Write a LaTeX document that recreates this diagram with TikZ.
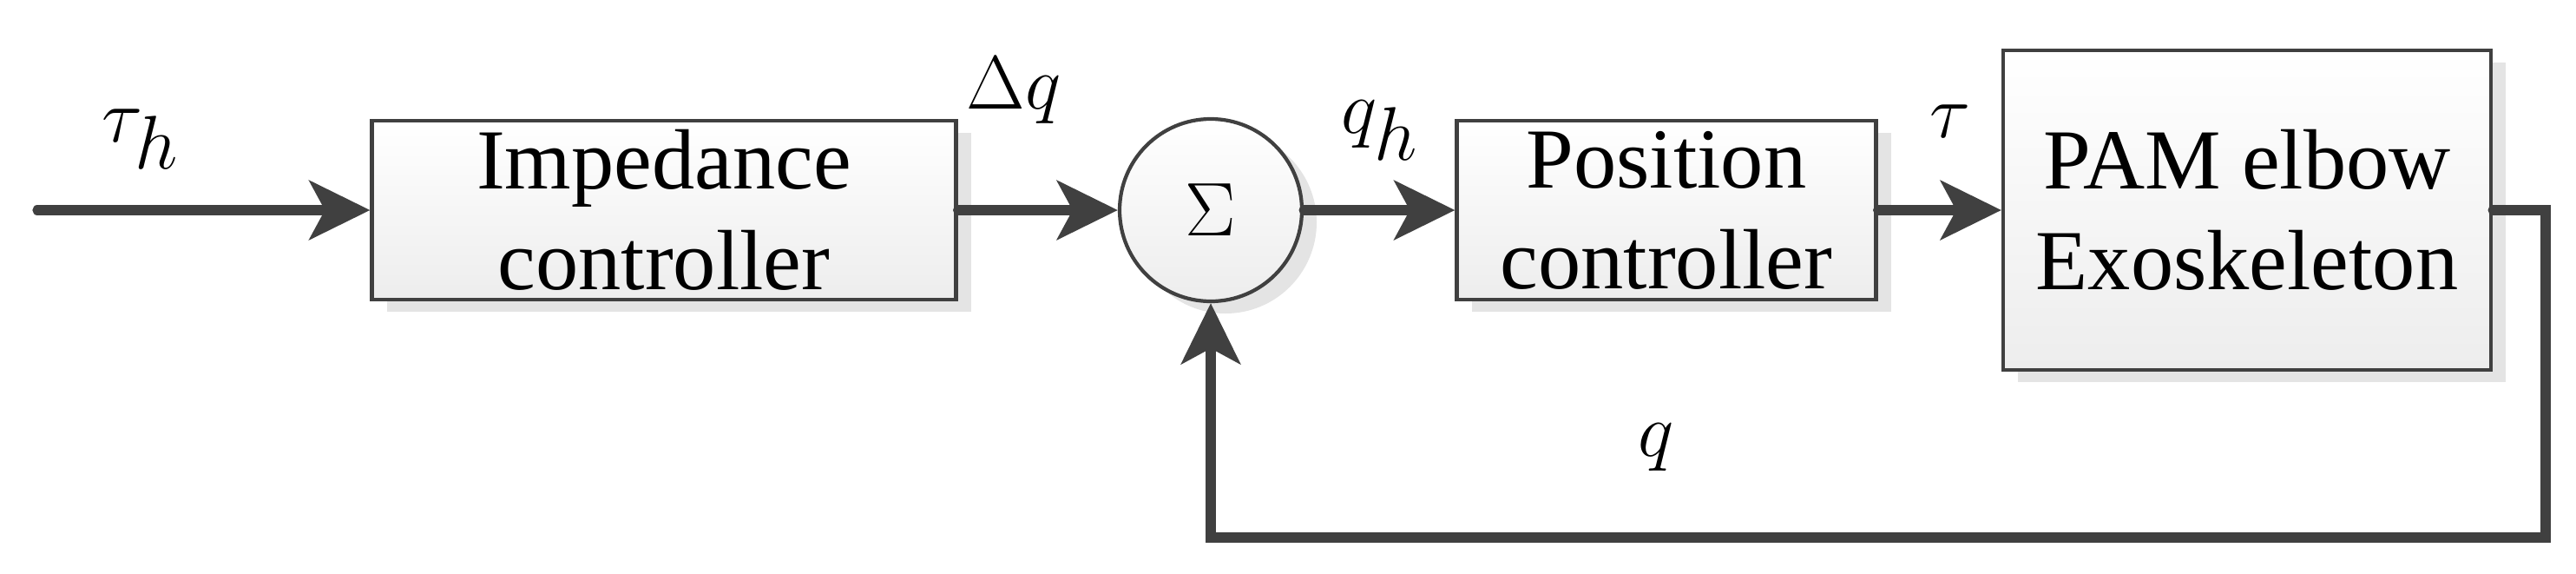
\documentclass[tikz,border=0pt]{standalone}
\usepackage{fontspec}
\setmainfont{Liberation Serif}
\usetikzlibrary{arrows.meta,shadows}

\tikzset{
    block/.style={draw=C0, line width=1.2pt, top color=white, bottom color=C1,
        drop shadow={shadow xshift=0.17cm, shadow yshift=-0.14cm, fill=C2, opacity=1},
        align=center, font=\fontsize{28}{33}\selectfont, inner sep=0pt},
    signal/.style={draw=C0, line width=3.2pt, line cap=round,
        -{Stealth[length=0.7cm, width=0.68cm, inset=0.18cm]}},
    lbl/.style={font=\fontsize{34}{40}\selectfont}
}

\begin{document}
\begin{tikzpicture}
    \definecolor{C0}{HTML}{404040}
    \definecolor{C1}{HTML}{EDEDED}
    \definecolor{C2}{HTML}{E4E4E4}

    \useasboundingbox (0,0) rectangle (29.68,6.6);

    \coordinate (in) at (0.43,4.18);
    \node[block, minimum width=6.73cm, minimum height=2.06cm] (imp) at (7.65,4.18) {Impedance\\controller};
    \node[block, shape=circle, minimum size=2.1cm, font=\fontsize{40}{40}\selectfont] (sum) at (13.95,4.18) {$\Sigma$};
    \node[block, minimum width=4.83cm, minimum height=2.06cm] (pos) at (19.20,4.18) {Position\\controller};
    \node[block, minimum width=5.62cm, minimum height=3.68cm] (pam) at (25.89,4.18) {PAM elbow\\Exoskeleton};
    \coordinate (c1) at (29.33,4.18);
    \coordinate (c2) at (29.33,0.41);

    \path[signal] (in) -- (imp);
    \path[signal] (imp) -- (sum);
    \path[signal] (sum) -- (pos);
    \path[signal] (pos) -- (pam);
    \path[signal] (pam.east) -- (c1) -- (c2) -- (sum |- c2) -- (sum.south);

    \node[lbl] (th) at (1.62,5.0) {$\tau_h$};
    \node[lbl] (dq) at (11.68,5.56) {$\Delta q$};
    \node[lbl] (qh) at (15.9,5.1) {$q_h$};
    \node[lbl] (ta) at (22.47,5.2) {$\tau$};
    \node[lbl] (q) at (19.08,1.45) {$q$};

\end{tikzpicture}
\end{document}
